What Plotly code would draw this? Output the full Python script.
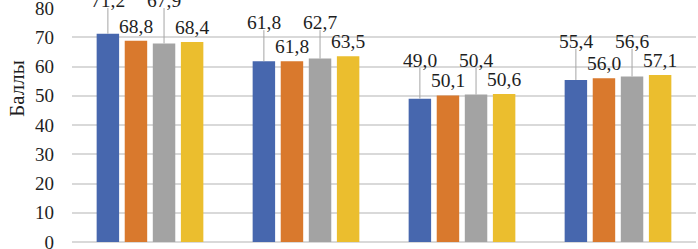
import plotly.graph_objects as go

categories = ["Группа 1", "Группа 2", "Группа 3", "Группа 4"]
series_names = ["Ряд 1", "Ряд 2", "Ряд 3", "Ряд 4"]
series_values = [
    [71.2, 61.8, 49.0, 55.4],
    [68.8, 61.8, 50.1, 56.0],
    [67.9, 62.7, 50.4, 56.6],
    [68.4, 63.5, 50.6, 57.1],
]
colors = ["#4767AE", "#D9792D", "#A3A3A3", "#EBBE2E"]
y_ticks = [0, 10, 20, 30, 40, 50, 60, 70, 80]
y_title = "Баллы"

W, H = 698, 249
M_L, M_R, M_T, M_B = 72, 2, 8, 7
Y_MAX = 80
BARGAP = 0.28
FONT = "Liberation Serif"
FS_LBL = 19.5
FS_TICK = 19
FS_TITLE = 21
TXT = "#1E1E1E"

fig = go.Figure()
for name, vals, col in zip(series_names, series_values, colors):
    fig.add_trace(go.Bar(x=categories, y=vals, name=name, marker_color=col,
                         marker_line_width=0, hoverinfo="skip"))

def fmt(v):
    return f"{v:.1f}".replace(".", ",")

px_per_unit = (H - M_T - M_B) / Y_MAX
half_text = 7.5 / px_per_unit
slot = (1 - BARGAP) / len(series_values)
annotations = []
shapes = []
for g in range(len(categories)):
    group_max = max(s[g] for s in series_values)
    raised = group_max + 11.5
    for i, vals in enumerate(series_values):
        xpos = g + (i - (len(series_values) - 1) / 2) * slot
        v = vals[g]
        if i % 2 == 0:
            annotations.append(dict(
                x=xpos, y=v, xref="x", yref="y", text=fmt(v),
                showarrow=False, yanchor="middle",
                yshift=(raised - v) * px_per_unit,
                font=dict(family=FONT, size=FS_LBL, color=TXT)))
            shapes.append(dict(type="line", xref="x", yref="y",
                               x0=xpos, x1=xpos, y0=v, y1=raised - half_text,
                               line=dict(color="#A6A6A6", width=1)))
        else:
            annotations.append(dict(
                x=xpos, y=v, xref="x", yref="y", text=fmt(v),
                showarrow=False, yanchor="bottom", yshift=2,
                font=dict(family=FONT, size=FS_LBL, color=TXT)))

# y-axis title (placed as rotated paper annotation)
annotations.append(dict(
    x=-0.088, y=0.655, xref="paper", yref="paper", text=y_title, textangle=-90,
    showarrow=False, xanchor="center", yanchor="middle",
    font=dict(family=FONT, size=FS_TITLE, color=TXT)))

fig.update_layout(
    width=W, height=H,
    margin=dict(l=M_L, r=M_R, t=M_T, b=M_B),
    barmode="group", bargap=BARGAP, bargroupgap=0.2,
    plot_bgcolor="white", paper_bgcolor="white",
    showlegend=False,
    annotations=annotations,
    shapes=shapes,
    font=dict(family=FONT, size=FS_TICK, color=TXT),
)
fig.update_xaxes(showticklabels=False, showgrid=False, showline=False, ticks="")
fig.update_yaxes(range=[0, Y_MAX], tickvals=y_ticks, showgrid=True, gridcolor="#D9D9D9",
                 gridwidth=1.5, zeroline=True, zerolinecolor="#D9D9D9", zerolinewidth=1.5,
                 showline=False, ticks="", ticklabelstandoff=17, ticklabeloverflow="allow",
                 tickfont=dict(family=FONT, size=FS_TICK, color=TXT),
                 automargin=False)

fig.write_html("out.html", config={"displayModeBar": False},
               post_script="document.body.style.margin='0';document.body.style.padding='0';")
